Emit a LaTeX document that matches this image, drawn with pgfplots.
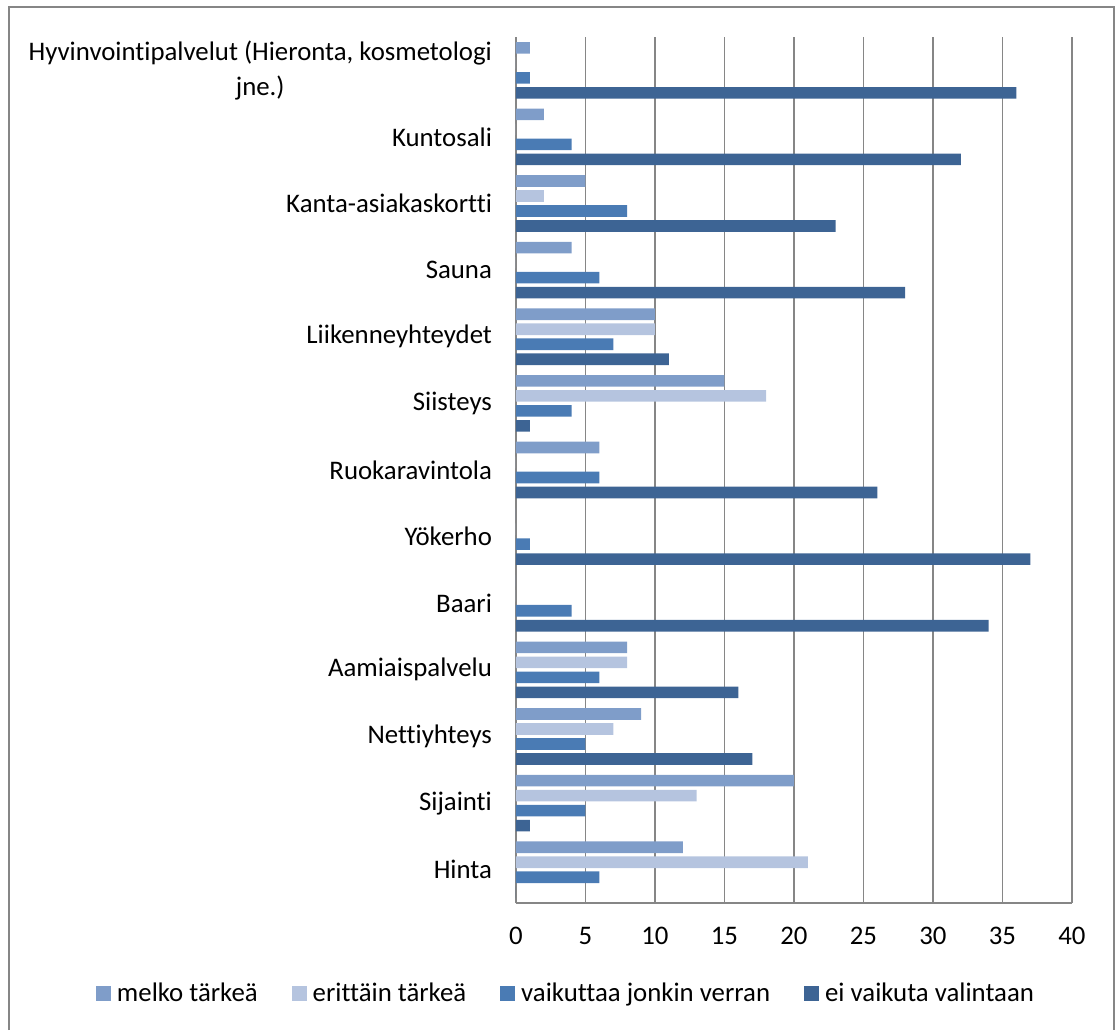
\documentclass[border=0pt]{standalone}
\usepackage{fontspec}
\setmainfont{Carlito}[Ligatures=NoCommon]
\usepackage{pgfplots}
\pgfplotsset{compat=1.18}
\usepackage{pgfplotstable}
\definecolor{cMelko}{RGB}{127,157,201}
\definecolor{cErit}{RGB}{181,196,223}
\definecolor{cVaik}{RGB}{74,123,180}
\definecolor{cEi}{RGB}{61,100,148}
\definecolor{gridgray}{RGB}{134,134,134}
\pgfplotstableread{
y melko erittain vaikuttaa ei
0  12 21 6 0
1  20 13 5 1
2  9  7  5 17
3  8  8  6 16
4  0  0  4 34
5  0  0  1 37
6  6  0  6 26
7  15 18 4 1
8  10 10 7 11
9  4  0  6 28
10 5  2  8 23
11 2  0  4 32
12 1  0  1 36
}\data
\begin{document}
\begin{tikzpicture}[font=\fontsize{13.4}{17.5}\selectfont]
\begin{axis}[
  scale only axis, width=278pt, height=433pt,
  xmin=0, xmax=40, ymin=-0.5, ymax=12.5,
  xtick={0,5,...,40}, ytick={0,...,12},
  yticklabels={Hinta,Sijainti,Nettiyhteys,Aamiaispalvelu,Baari,Yökerho,Ruokaravintola,Siisteys,Liikenneyhteydet,Sauna,Kanta-asiakaskortti,Kuntosali,{Hyvinvointipalvelut (Hieronta, kosmetologi\\jne.)}},
  yticklabel style={align=center, xshift=-8.5pt},
  xticklabel style={yshift=-8.5pt},
  /pgf/number format/assume math mode=true,
  axis x line=bottom, axis y line=left,
  axis line style={gridgray, line width=0.8pt, -},
  xmajorgrids, grid style={gridgray, line width=0.8pt},
  major tick length=0,
  xbar, bar width=5.8pt,
  clip=false,
  legend columns=-1,
  legend image code/.code={\fill[#1] (0pt,-3.75pt) rectangle (7.5pt,3.75pt);},
  legend style={at={(rel axis cs:0.0935,-0.105)}, anchor=center, draw=none, fill=none,
    nodes={inner sep=3pt},
    /tikz/every even column/.append style={column sep=14pt}},
]
\addplot[fill=cMelko, draw=none, bar shift=11.25pt] table[x=melko, y=y] {\data};
\addplot[fill=cErit, draw=none, bar shift=3.75pt] table[x=erittain, y=y] {\data};
\addplot[fill=cVaik, draw=none, bar shift=-3.75pt] table[x=vaikuttaa, y=y] {\data};
\addplot[fill=cEi, draw=none, bar shift=-11.25pt] table[x=ei, y=y] {\data};
\legend{melko tärkeä, erittäin tärkeä, vaikuttaa jonkin verran, ei vaikuta valintaan}
\coordinate (bbA) at (rel axis cs:-0.92806,-0.14665);
\coordinate (bbB) at (rel axis cs:1.07914,1.04273);
\draw[gridgray, line width=0.75pt] (rel axis cs:-0.9119,-0.14665) -- (rel axis cs:-0.9119,1.0346) -- (rel axis cs:1.0755,1.0346) -- (rel axis cs:1.0755,-0.14665);
\end{axis}
\useasboundingbox (bbA) rectangle (bbB);
\end{tikzpicture}
\end{document}
